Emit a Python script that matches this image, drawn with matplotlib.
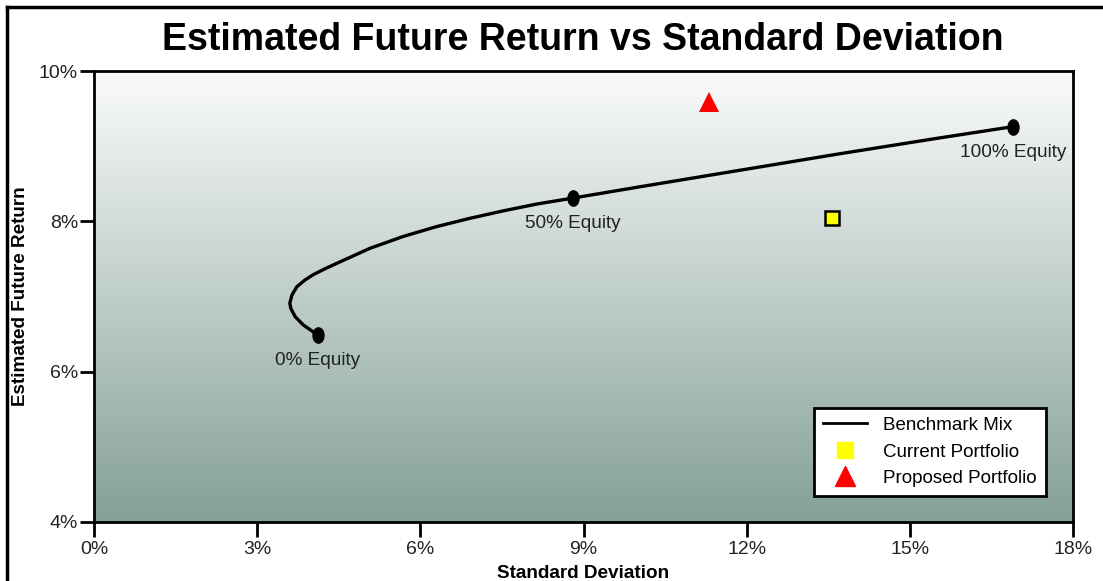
import numpy as np
import matplotlib.pyplot as plt
from matplotlib.colors import LinearSegmentedColormap
from matplotlib.lines import Line2D
from matplotlib.path import Path
from matplotlib.transforms import Affine2D

plt.rcParams['font.family'] = ['Liberation Sans', 'DejaVu Sans']

# ---- data (percent) ----
frontier_sd = [4.11, 3.85, 3.70, 3.62, 3.60, 3.64, 3.73, 3.88, 4.03, 4.25, 4.46,
               5.07, 5.69, 6.30, 6.91, 7.53, 8.14, 8.81, 10.04, 11.88, 13.72,
               15.55, 16.90]
frontier_ret = [6.49, 6.62, 6.73, 6.84, 6.91, 7.02, 7.13, 7.22, 7.29, 7.37, 7.44,
                7.64, 7.80, 7.93, 8.04, 8.14, 8.23, 8.31, 8.46, 8.68, 8.90,
                9.11, 9.26]

mix_labels = ["0% Equity", "50% Equity", "100% Equity"]
mix_sd = [4.11, 8.81, 16.90]
mix_ret = [6.49, 8.31, 9.25]

current_sd, current_ret = [13.57], [8.04]
proposed_sd, proposed_ret = [11.31], [9.59]

x_ticks = [0, 3, 6, 9, 12, 15, 18]
y_ticks = [4, 6, 8, 10]

# ---- figure ----
fig = plt.figure(figsize=(11.03, 5.81), dpi=100)
ax = fig.add_axes([94 / 1103, 1 - 522 / 581, (1073 - 94) / 1103, (522 - 71) / 581])

# gradient background, white at top
cmap = LinearSegmentedColormap.from_list("bg", ["#fafbfb", "#84a098"])
grad = np.linspace(0, 1, 256).reshape(-1, 1)
ax.imshow(grad, cmap=cmap, aspect='auto', extent=[0, 18, 4, 10],
          origin='upper', zorder=0)

# benchmark mix curve
ax.plot(frontier_sd, frontier_ret, color='black', lw=2.4, zorder=3,
        solid_joinstyle='round')

oval = Path(Affine2D().scale(0.72, 1.0).transform(Path.unit_circle().vertices),
            Path.unit_circle().codes)
ax.plot(mix_sd, mix_ret, ls='none', marker=oval, markersize=11,
        color='black', zorder=4)
for sd, r, lab in zip(mix_sd, mix_ret, mix_labels):
    ax.annotate(lab, (sd, r), xytext=(0, -12), textcoords='offset points',
                ha='center', va='top', fontsize=13.7, color='#222222')

ax.plot(current_sd, current_ret, ls='none', marker='s', markersize=9.5,
        markerfacecolor='#ffff00', markeredgecolor='black', markeredgewidth=1.8,
        zorder=5)
ax.plot(proposed_sd, proposed_ret, ls='none', marker='^', markersize=14,
        color='#ff0000', markeredgewidth=0, zorder=5)

ax.set_xlim(0, 18)
ax.set_ylim(4, 10)
ax.set_xticks(x_ticks)
ax.set_xticklabels([f"{v}%" for v in x_ticks])
ax.set_yticks(y_ticks)
ax.set_yticklabels([f"{v}%" for v in y_ticks])
ax.tick_params(axis='x', direction='out', length=11, width=2, labelsize=14,
               labelcolor='#222222', pad=3)
ax.tick_params(axis='y', direction='out', length=10, width=2, labelsize=14,
               labelcolor='#222222', pad=1.5)
for s in ax.spines.values():
    s.set_linewidth(2)

ax.set_xlabel("Standard Deviation", fontsize=13.6, fontweight='bold', labelpad=4.5)
ax.set_ylabel("Estimated Future Return", fontsize=13.6, fontweight='bold', labelpad=7)

fig.text(583 / 1103, 1 - 40 / 581, "Estimated Future Return vs Standard Deviation",
         ha='center', va='center', fontsize=27, fontweight='bold')

# legend
handles = [
    Line2D([], [], color='black', lw=2),
    Line2D([], [], ls='none', marker='s', markersize=11, color='#ffff00'),
    Line2D([], [], ls='none', marker='^', markersize=14, color='#ff0000'),
]
leg = ax.legend(handles, ["Benchmark Mix", "Current Portfolio", "Proposed Portfolio"],
                loc='lower right', bbox_to_anchor=(0.9825, 0.036), fontsize=13.5,
                frameon=True, fancybox=False, framealpha=1, edgecolor='black',
                handlelength=2.3, handletextpad=0.9, borderpad=0.5, labelspacing=0.5)
leg.get_frame().set_linewidth(2)

# outer frame (left and top edges)
fig.add_artist(Line2D([7 / 1103, 7 / 1103], [0, 1 - 7 / 581], color='black', lw=2.5))
fig.add_artist(Line2D([7 / 1103, 1], [1 - 7 / 581, 1 - 7 / 581], color='black', lw=2.5))

fig.savefig("out.png", dpi=100)
